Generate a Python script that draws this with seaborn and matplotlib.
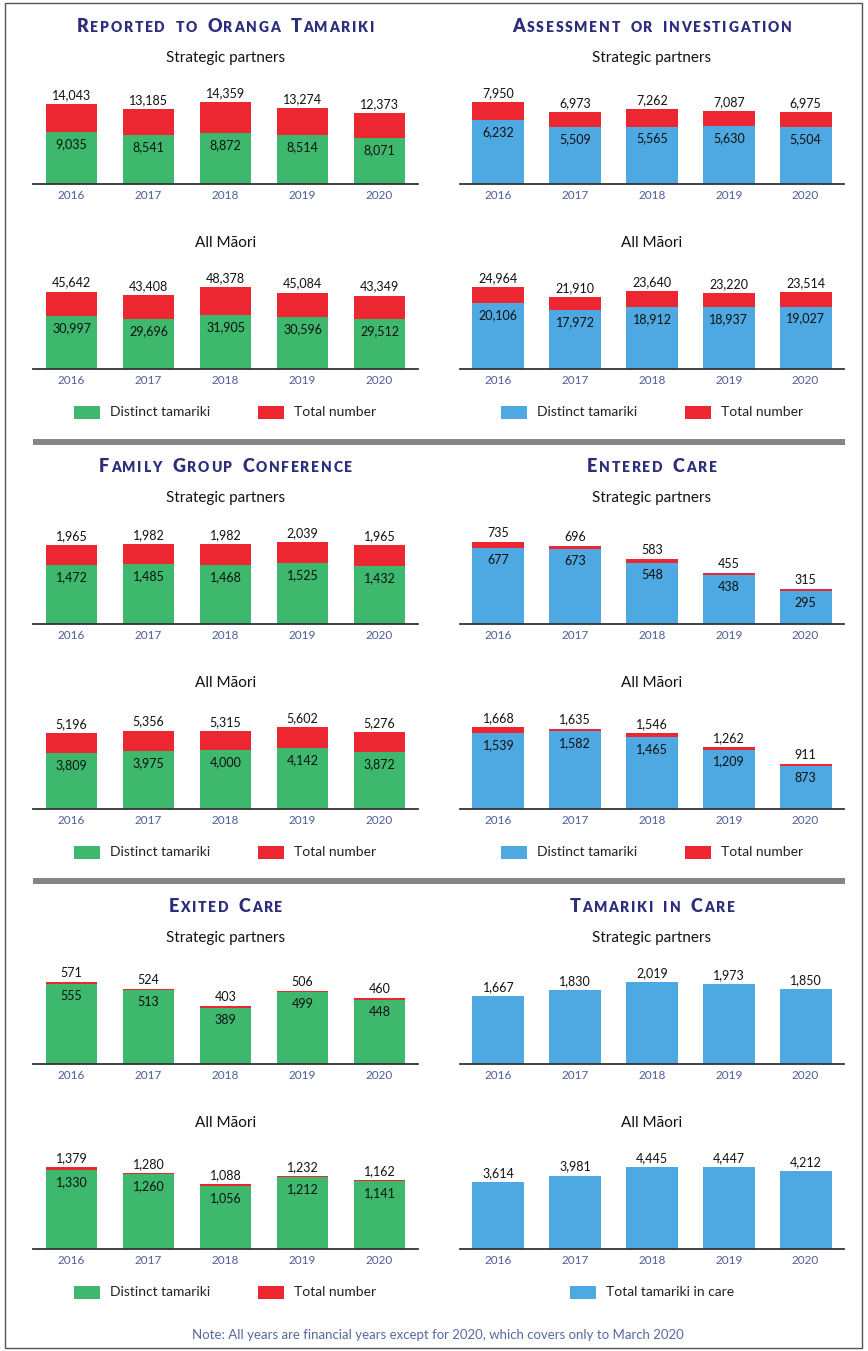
import matplotlib
matplotlib.use('Agg')
import matplotlib.pyplot as plt
from matplotlib.patches import Rectangle
import seaborn as sns

years = ['2016', '2017', '2018', '2019', '2020']

reported_sp_total = [14043, 13185, 14359, 13274, 12373]
reported_sp_distinct = [9035, 8541, 8872, 8514, 8071]
reported_am_total = [45642, 43408, 48378, 45084, 43349]
reported_am_distinct = [30997, 29696, 31905, 30596, 29512]

assess_sp_total = [7950, 6973, 7262, 7087, 6975]
assess_sp_distinct = [6232, 5509, 5565, 5630, 5504]
assess_am_total = [24964, 21910, 23640, 23220, 23514]
assess_am_distinct = [20106, 17972, 18912, 18937, 19027]

fgc_sp_total = [1965, 1982, 1982, 2039, 1965]
fgc_sp_distinct = [1472, 1485, 1468, 1525, 1432]
fgc_am_total = [5196, 5356, 5315, 5602, 5276]
fgc_am_distinct = [3809, 3975, 4000, 4142, 3872]

entered_sp_total = [735, 696, 583, 455, 315]
entered_sp_distinct = [677, 673, 548, 438, 295]
entered_am_total = [1668, 1635, 1546, 1262, 911]
entered_am_distinct = [1539, 1582, 1465, 1209, 873]

exited_sp_total = [571, 524, 403, 506, 460]
exited_sp_distinct = [555, 513, 389, 499, 448]
exited_am_total = [1379, 1280, 1088, 1232, 1162]
exited_am_distinct = [1330, 1260, 1056, 1212, 1141]

incare_sp = [1667, 1830, 2019, 1973, 1850]
incare_am = [3614, 3981, 4445, 4447, 4212]

titles = ['Reported to Oranga Tamariki', 'Assessment or investigation',
          'Family Group Conference', 'Entered Care',
          'Exited Care', 'Tamariki in Care']

GREEN = '#3eb86c'
RED = '#ec2731'
BLUE = '#4ea8e1'
NAVY = '#2c2d7c'
YEARC = '#4f5d98'
SEP = '#858585'

sns.set_style('white')
plt.rcParams['font.family'] = ['Lato', 'DejaVu Sans']

W, H = 868, 1351
fig = plt.figure(figsize=(W / 100, H / 100), dpi=100)
canvas = fig.add_axes([0, 0, 1, 1])
canvas.set_xlim(0, W)
canvas.set_ylim(H, 0)
canvas.axis('off')
renderer = fig.canvas.get_renderer()

# outer frame
canvas.add_patch(Rectangle((5, 3), 857, 1345, fill=False, ec='#555555', lw=1))


def small_caps(xc, y, text, big=13, small=10, track=1.7, word=7):
    pieces = []
    for ch in text:
        if ch == ' ':
            pieces.append((None, word))
            continue
        size = big if ch.isupper() else small
        t = canvas.text(0, y, ch.upper(), fontsize=size, fontweight='heavy',
                        color=NAVY, va='baseline', ha='left')
        pieces.append((t, t.get_window_extent(renderer).width))
    total = sum(w for _, w in pieces) + track * (len(pieces) - 1)
    x = xc - total / 2
    for t, w in pieces:
        if t is not None:
            t.set_x(x)
        x += w + track


def bar_axes(x0, x1, base):
    ax = fig.add_axes([x0 / W, 1 - base / H, (x1 - x0) / W, 100 / H])
    return ax


def draw_chart(ax, total, distinct, color):
    sns.barplot(x=years, y=total, color=RED if distinct is not None else color,
                width=0.675, saturation=1, errorbar=None, linewidth=0, ax=ax)
    if distinct is not None:
        sns.barplot(x=years, y=distinct, color=color, width=0.675,
                    saturation=1, errorbar=None, linewidth=0, ax=ax)
    ax.set_xlim(-0.5, 4.5)
    ax.set_ylim(0, max(total) * 100 / 82)
    for i, v in enumerate(total):
        ax.annotate(f'{v:,}', (i, v), xytext=(0, 9), textcoords='offset pixels',
                    ha='center', va='center', fontsize=9, color='#111111')
    if distinct is not None:
        for i, v in enumerate(distinct):
            ax.annotate(f'{v:,}', (i, v), xytext=(0, -12), textcoords='offset pixels',
                        ha='center', va='center', fontsize=9, color='#111111')
    for s in ['top', 'left', 'right']:
        ax.spines[s].set_visible(False)
    ax.spines['bottom'].set_color('#333333')
    ax.spines['bottom'].set_linewidth(1.3)
    ax.set_yticks([])
    ax.set_xticks(range(5))
    ax.set_xticklabels(years, color=YEARC, fontsize=8.5)
    ax.tick_params(axis='x', length=0, pad=4)
    ax.set_xlabel('')
    ax.set_ylabel('')
    ax.patch.set_alpha(0)


def legend(xs, y, items):
    for x, (label, color) in zip(xs, items):
        canvas.add_patch(Rectangle((x, y - 6.5), 26, 13, color=color, lw=0))
        canvas.text(x + 36, y, label, fontsize=10, color='#222222', va='center', ha='left')


cols = [(33, 418), (460, 844)]
panels = [
    (reported_sp_total, reported_sp_distinct, reported_am_total, reported_am_distinct, GREEN),
    (assess_sp_total, assess_sp_distinct, assess_am_total, assess_am_distinct, BLUE),
    (fgc_sp_total, fgc_sp_distinct, fgc_am_total, fgc_am_distinct, GREEN),
    (entered_sp_total, entered_sp_distinct, entered_am_total, entered_am_distinct, BLUE),
    (exited_sp_total, exited_sp_distinct, exited_am_total, exited_am_distinct, GREEN),
    (incare_sp, None, incare_am, None, BLUE),
]

for k, (sp_t, sp_d, am_t, am_d, color) in enumerate(panels):
    row, col = divmod(k, 2)
    off = 440 * row
    x0, x1 = cols[col]
    xc = (x0 + x1) / 2
    small_caps(xc, 32 + off, titles[k])
    canvas.text(xc, 58 + off, 'Strategic partners', fontsize=11, color='#111111',
                ha='center', va='center')
    canvas.text(xc, 243 + off, 'All Māori', fontsize=11, color='#111111',
                ha='center', va='center')
    draw_chart(bar_axes(x0, x1, 184 + off), sp_t, sp_d, color)
    draw_chart(bar_axes(x0, x1, 369 + off), am_t, am_d, color)
    if sp_d is not None:
        legend([x0 + 41, x0 + 225], 412 + off,
               [('Distinct tamariki', color), ('Total number', RED)])
    else:
        legend([x0 + 110], 412 + off, [('Total tamariki in care', color)])

# separators
for y in [442, 881]:
    canvas.add_patch(Rectangle((33, y - 3), 812, 6, color=SEP, lw=0))

canvas.text(438, 1335, 'Note: All years are financial years except for 2020, which covers only to March 2020',
            fontsize=9.5, color='#5a68a0', ha='center', va='center')

plt.savefig('out.png', dpi=100)
